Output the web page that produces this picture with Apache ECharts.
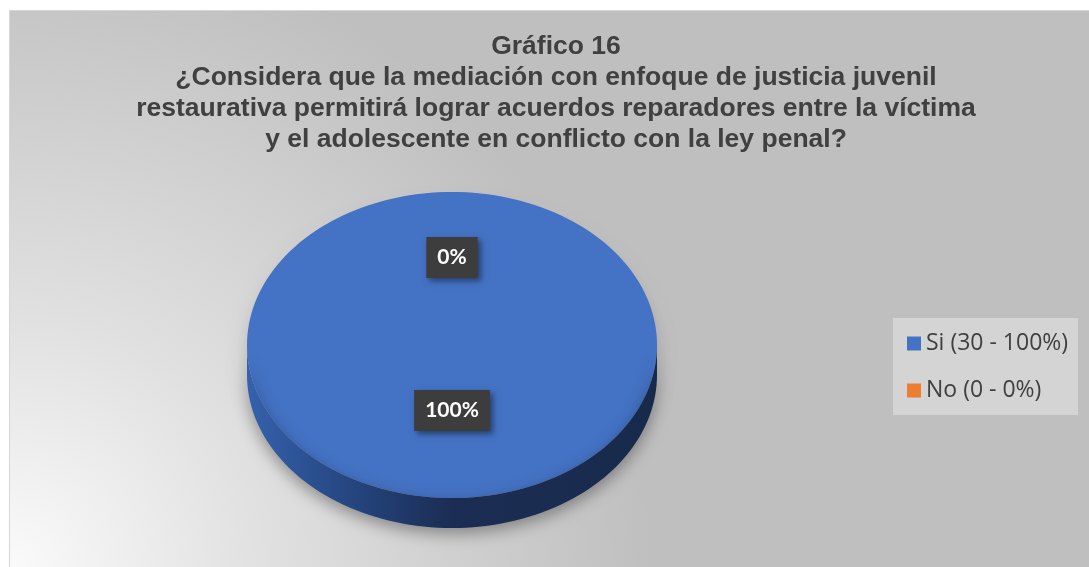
<!DOCTYPE html>
<html lang="es">
<head>
    <meta charset="utf-8"/>
    <title>Gráfico 16</title>
    <script src="https://cdn.jsdelivr.net/npm/echarts@6/dist/echarts.min.js"></script>
    <style>
        * { margin: 0; padding: 0; }
        html, body { width: 100%; height: 100%; background: #ffffff; overflow: hidden; }
        #main { width: 1089px; height: 567px; }
    </style>
</head>
<body>
<div id="main"></div>
<script>
    // datos del gráfico
    var categorias = ['Si', 'No'];
    var frecuencias = [30, 0];
    var colores = ['#4472c4', '#ed7d31'];
    var titulo = [
        'Gráfico 16',
        '¿Considera que la mediación con enfoque de justicia juvenil',
        'restaurativa permitirá lograr acuerdos reparadores entre la víctima',
        'y el adolescente en conflicto con la ley penal?'
    ];

    var total = frecuencias.reduce(function (a, b) { return a + b; }, 0);
    var porcentajes = frecuencias.map(function (v) { return Math.round(v / total * 100); });
    var acumulado = [];
    frecuencias.reduce(function (s, v, i) { acumulado[i] = s; return s + v; }, 0);

    // geometría del queso 3D (elipse + lateral)
    var CX = 452, CY = 345, RX = 205, RY = 153, ALTO = 30;

    function arco(a1, a2, dy) {
        var pts = [];
        var n = Math.max(2, Math.ceil(Math.abs(a2 - a1) / 2));
        for (var i = 0; i <= n; i++) {
            var a = (a1 + (a2 - a1) * i / n) * Math.PI / 180;
            pts.push([CX + RX * Math.cos(a), CY + RY * Math.sin(a) + dy]);
        }
        return pts;
    }

    var gradLateral = new echarts.graphic.LinearGradient(CX - RX, 0, CX + RX, 0, [
        {offset: 0, color: '#3561ad'},
        {offset: 0.25, color: '#254680'},
        {offset: 0.5, color: '#1b2d53'},
        {offset: 1, color: '#182a4b'}
    ], true);

    function renderQueso(idx) {
        return function (params, api) {
            var valor = api.value(0);
            var a1 = -90 + acumulado[idx] / total * 360;
            var a2 = a1 + valor / total * 360;
            var hijos = [];
            // lateral (solo la mitad delantera)
            [-360, 0, 360].forEach(function (k) {
                var s = Math.max(a1, k), e = Math.min(a2, k + 180);
                if (e > s) {
                    hijos.push({
                        type: 'polygon',
                        shape: {points: arco(s, e, 0).concat(arco(e, s, ALTO))},
                        style: {
                            fill: gradLateral,
                            shadowColor: 'rgba(0,0,0,0.35)',
                            shadowBlur: 16,
                            shadowOffsetY: 6
                        },
                        z2: 1
                    });
                }
            });
            // cara superior
            if (a2 > a1) {
                hijos.push({
                    type: 'polygon',
                    shape: {points: [[CX, CY]].concat(arco(a1, a2, 0))},
                    style: {
                        fill: colores[idx],
                        shadowColor: 'rgba(0,0,0,0.18)',
                        shadowBlur: 18,
                        shadowOffsetY: 14
                    },
                    z2: 0
                });
            }
            // etiqueta
            var m = (a1 + a2) / 2 * Math.PI / 180;
            hijos.push({
                type: 'text',
                x: CX + 0.5 * RX * Math.cos(m),
                y: CY - 11 + 0.5 * RY * Math.sin(m),
                z2: 5,
                style: {
                    text: porcentajes[idx] + '%',
                    align: 'center',
                    verticalAlign: 'middle',
                    fill: '#ffffff',
                    font: 'bold 21px Lato, "Open Sans", sans-serif',
                    backgroundColor: '#3d3d3d',
                    padding: [10, 11, 10, 11],
                    shadowColor: 'rgba(0,0,0,0.45)',
                    shadowBlur: 6,
                    shadowOffsetX: 3,
                    shadowOffsetY: 3
                }
            });
            return {type: 'group', children: hijos};
        };
    }

    var series = categorias.map(function (nombre, i) {
        return {
            name: nombre,
            type: 'custom',
            coordinateSystem: 'none',
            itemStyle: {color: colores[i]},
            data: [[frecuencias[i]]],
            renderItem: renderQueso(i)
        };
    });

    var chart = echarts.init(document.getElementById('main'));
    chart.setOption({
        animation: false,
        graphic: [{
            type: 'rect',
            z: -10,
            silent: true,
            shape: {x: 9.5, y: 10.5, width: 1090, height: 570},
            style: {
                fill: {
                    type: 'radial', x: 10, y: 567, r: 640, global: true,
                    colorStops: [
                        {offset: 0, color: '#fafafa'},
                        {offset: 0.4, color: '#e0e0e0'},
                        {offset: 1, color: '#bfbfbf'}
                    ]
                },
                stroke: '#d6d6d6',
                lineWidth: 1
            }
        }],
        title: {
            text: titulo.join('\n'),
            left: 556,
            top: 31,
            padding: 0,
            textAlign: 'center',
            textStyle: {
                fontFamily: '"Liberation Sans", Arial, sans-serif',
                fontSize: 26.5,
                fontWeight: 'bold',
                color: '#404040',
                lineHeight: 31
            }
        },
        legend: {
            orient: 'vertical',
            left: 893,
            top: 318,
            backgroundColor: '#d4d4d4',
            padding: [14, 10, 13, 14],
            itemWidth: 14,
            itemHeight: 14,
            itemGap: 24,
            icon: 'rect',
            data: categorias,
            formatter: function (nombre) {
                var i = categorias.indexOf(nombre);
                return nombre + ' (' + frecuencias[i] + ' - ' + porcentajes[i] + '%)';
            },
            textStyle: {
                fontFamily: '"Open Sans", Lato, sans-serif',
                fontSize: 23,
                color: '#404040'
            }
        },
        series: series
    });
</script>
</body>
</html>
